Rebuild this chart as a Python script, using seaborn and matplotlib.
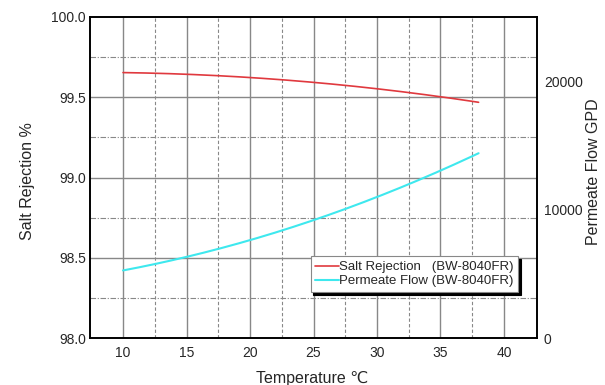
import matplotlib
matplotlib.use("Agg")
import matplotlib.pyplot as plt
import seaborn as sns
import numpy as np
import pandas as pd

temps = [10, 15, 20, 25, 30, 35, 38]
salt_rejection = [99.657, 99.64, 99.618, 99.595, 99.557, 99.505, 99.465]
permeate_flow = [5270, 6300, 7600, 9250, 10950, 13000, 14420]
x_ticks = [10, 15, 20, 25, 30, 35, 40]
left_ticks = [98.0, 98.5, 99.0, 99.5, 100.0]
right_ticks = [0, 10000, 20000]

sns.set_style("white")
plt.rcParams['font.family'] = ['Liberation Sans', 'DejaVu Sans']

xs = np.linspace(10, 38, 200)
c1 = np.polyfit(temps, salt_rejection, 2)
c2 = np.polyfit(temps, permeate_flow, 2)
df = pd.DataFrame({"T": xs, "SR": np.polyval(c1, xs), "PF": np.polyval(c2, xs)})

W, H = 605, 385
fig = plt.figure(figsize=(6.05, 3.85), dpi=100)
L, R, T, B = 90, 537, 17, 338
ax = fig.add_axes([L/W, 1-B/H, (R-L)/W, (B-T)/H])
ax2 = ax.twinx()

ax.set_xlim(7.4, 42.6)
ax.set_ylim(98.0, 100.0)
ax2.set_ylim(0, 25000)

for v in np.arange(10, 41, 5):
    ax.axvline(v, color="#888888", lw=1.0, zorder=0)
for v in np.arange(12.5, 40, 5):
    ax.axvline(v, color="#888888", lw=0.8, ls=(0, (3, 2)), zorder=0)
for v in [98.5, 99.0, 99.5]:
    ax.axhline(v, color="#888888", lw=1.0, zorder=0)
for v in [98.25, 98.75, 99.25, 99.75]:
    ax.axhline(v, color="#888888", lw=0.8, ls=(0, (5, 1.5, 1, 1.5)), zorder=0)

sns.lineplot(data=df, x="T", y="SR", ax=ax, color="#e0393e", lw=1.2,
             label="Salt Rejection   (BW-8040FR)", legend=False)
sns.lineplot(data=df, x="T", y="PF", ax=ax2, color="#3ee8ee", lw=1.5,
             label="Permeate Flow (BW-8040FR)", legend=False)

ax.set_xticks(x_ticks)
ax.set_yticks(left_ticks)
ax.set_yticklabels([f"{v:.1f}" for v in left_ticks])
ax2.set_yticks(right_ticks)
ax.tick_params(axis="y", length=0, labelsize=10, pad=3)
ax.tick_params(axis="x", length=0, labelsize=10, pad=6)
ax2.tick_params(length=0, labelsize=10, pad=5)

ax.set_xlabel("Temperature ℃", fontsize=11.5)
ax.set_ylabel("Salt Rejection %", fontsize=11.5)
ax2.set_ylabel("Permeate Flow GPD", fontsize=11.5, rotation=90)
ax.xaxis.set_label_coords((312 - L)/(R-L), -(378 - B)/(B-T), transform=ax.transAxes)
ax.yaxis.set_label_coords(-(L - 28)/(R-L), 0.5 - ((181 - (T+B)/2))/(B-T))
ax2.yaxis.set_label_coords(1 + (593 - R)/(R-L), 0.5 - ((172 - (T+B)/2))/(B-T))
ax.xaxis.label.set_va("center")
ax.yaxis.label.set_va("center")
ax2.yaxis.label.set_va("center")

for a in (ax, ax2):
    for s in a.spines.values():
        s.set_color("black")
        s.set_linewidth(1.2)

h1, lab1 = ax.get_legend_handles_labels()
h2, lab2 = ax2.get_legend_handles_labels()
leg = ax2.legend(h1 + h2, lab1 + lab2, loc="lower right",
                 bbox_to_anchor=((518 - L)/(R-L), (B - 292)/(B-T)),
                 fontsize=9.5, frameon=True, fancybox=False, shadow={'color': 'black', 'alpha': 1},
                 handlelength=1.8, handletextpad=0.0, borderpad=0.35, labelspacing=0.15,
                 borderaxespad=0)
leg.get_frame().set_edgecolor("#888888")
leg.get_frame().set_linewidth(0.8)

fig.savefig("out.png", dpi=100)
